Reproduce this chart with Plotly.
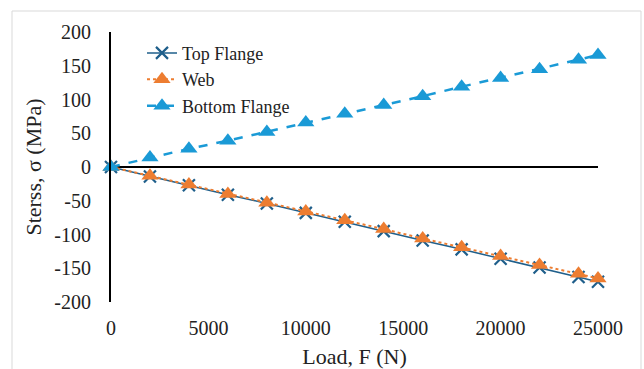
import plotly.graph_objects as go

load = [0, 2000, 4000, 6000, 8000, 10000, 12000, 14000, 16000, 18000, 20000, 22000, 24000, 25000]
top_flange = [0, -14, -27, -41, -54, -68, -81, -95, -109, -122, -136, -149, -163, -170]
web = [0, -13, -26, -40, -53, -66, -79, -92, -106, -119, -132, -145, -158, -165]
bottom_flange = [0, 14, 27, 39, 52, 66, 79, 92, 105, 119, 132, 145, 159, 166]
x_ticks = [0, 5000, 10000, 15000, 20000, 25000]
y_ticks = [-200, -150, -100, -50, 0, 50, 100, 150, 200]

FONT = "Liberation Serif, Times New Roman, serif"

fig = go.Figure()
fig.add_trace(go.Scatter(
    x=load, y=top_flange, name="Top Flange", mode="lines+markers",
    line=dict(color="#1F5F8B", width=1.5),
    marker=dict(symbol="x-thin", size=12, line=dict(color="#1F5F8B", width=2.2)),
    cliponaxis=False))
fig.add_trace(go.Scatter(
    x=load, y=web, name="Web", mode="lines+markers",
    line=dict(color="#ED7D31", width=2, dash="dot"),
    marker=dict(symbol="triangle-up", size=15, color="#ED7D31"),
    cliponaxis=False))
fig.add_trace(go.Scatter(
    x=load, y=bottom_flange, name="Bottom Flange", mode="lines+markers",
    line=dict(color="#1A9AD6", width=2.5, dash="dash"),
    marker=dict(symbol="triangle-up", size=15, color="#1A9AD6"),
    cliponaxis=False))

fig.update_layout(
    width=644, height=369,
    margin=dict(l=111, r=46, t=32, b=67),
    paper_bgcolor="white", plot_bgcolor="white",
    font=dict(family=FONT, size=20, color="#222222"),
    legend=dict(x=(142 - 111) / 487, y=0.99, xanchor="left", yanchor="top",
                font=dict(family=FONT, size=18, color="#222222"),
                bgcolor="rgba(0,0,0,0)", tracegroupgap=0, itemsizing="trace"),
    shapes=[dict(type="rect", xref="paper", yref="paper",
                 x0=(12 - 111) / 487, x1=(641 - 111) / 487,
                 y0=(302 - 400) / 270, y1=(302 - 11) / 270,
                 line=dict(color="#D9D9D9", width=1), fillcolor="rgba(0,0,0,0)", layer="below")],
)
fig.update_xaxes(
    range=[0, 25000], tickvals=x_ticks, ticktext=[str(v) for v in x_ticks],
    showgrid=False, zeroline=False, showline=False, ticks="",
    ticklabelstandoff=12, automargin=False,
    title=dict(text="Load, F (N)", standoff=12, font=dict(family=FONT, size=22)),
)
fig.update_yaxes(
    range=[-200, 200], tickvals=y_ticks, ticktext=[str(v) for v in y_ticks],
    showgrid=False, zeroline=True, zerolinecolor="black", zerolinewidth=2,
    showline=True, linecolor="black", linewidth=2, ticks="",
    ticklabelstandoff=14, automargin=False,
    title=dict(text="Sterss, σ (MPa)", standoff=7, font=dict(family=FONT, size=22)),
)

fig.write_html("out.html")
